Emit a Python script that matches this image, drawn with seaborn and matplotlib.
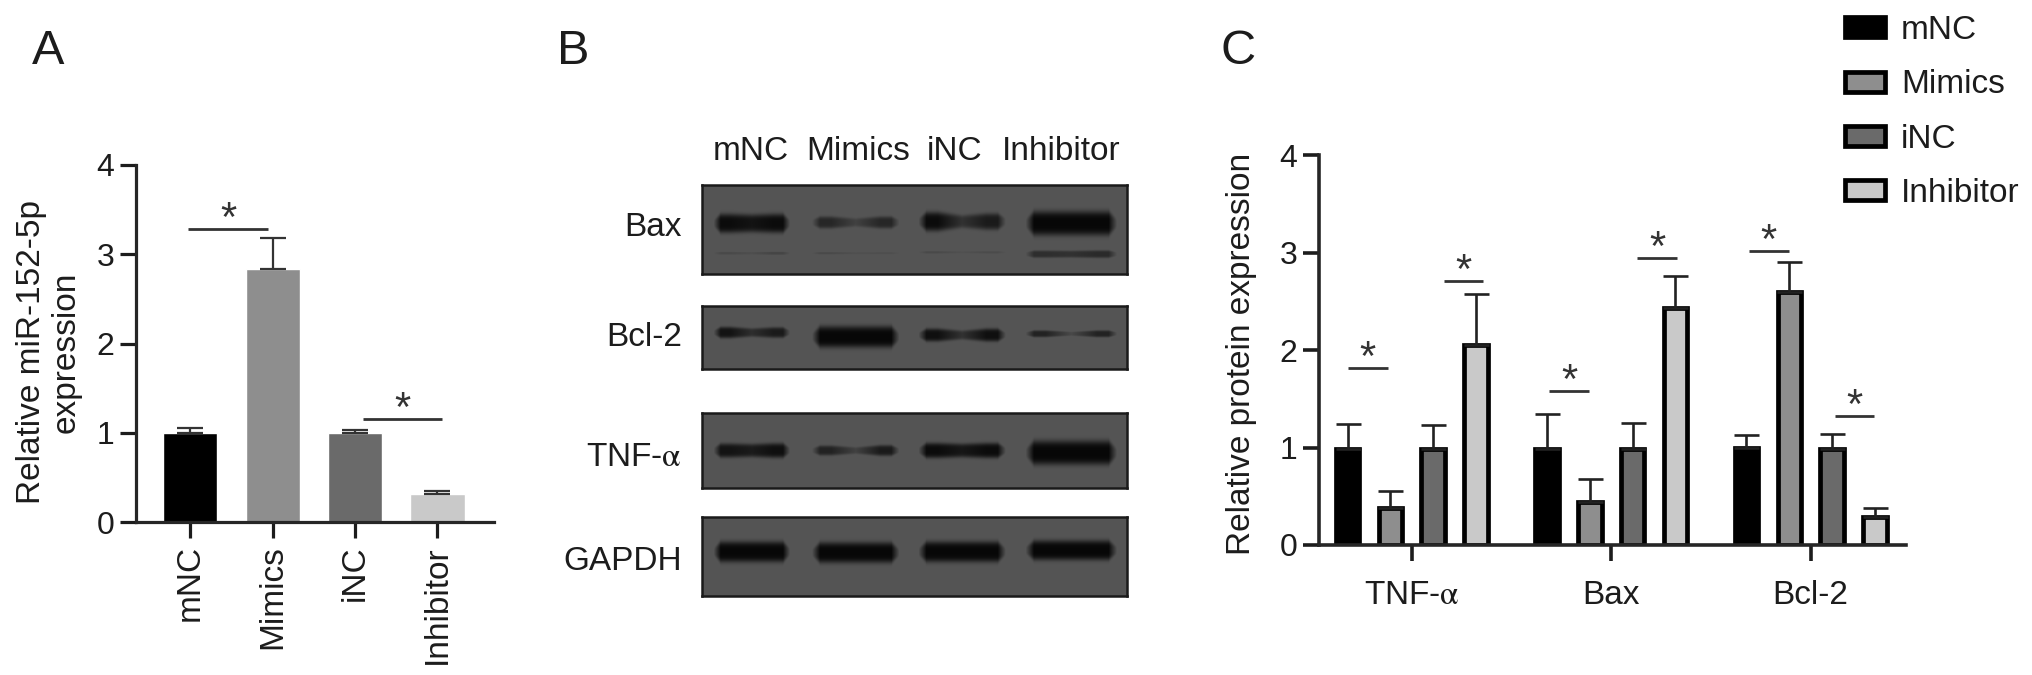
import numpy as np
import pandas as pd
import matplotlib
matplotlib.use("Agg")
import matplotlib.pyplot as plt
import seaborn as sns

W, H = 2032, 675

sns.set_theme(style="white")
plt.rcParams['font.family'] = ['Liberation Sans', 'DejaVu Sans']
plt.rcParams['mathtext.fontset'] = 'stix'
plt.rcParams['text.color'] = '#1c1c1c'
plt.rcParams['axes.labelcolor'] = '#1c1c1c'
plt.rcParams['xtick.color'] = '#1c1c1c'
plt.rcParams['ytick.color'] = '#1c1c1c'

groups = ['mNC', 'Mimics', 'iNC', 'Inhibitor']
colors = ['#000000', '#8e8e8e', '#6a6a6a', '#c9c9c9']

# panel A
a_vals = [1.0, 2.83, 1.0, 0.31]
a_tops = [1.05, 3.18, 1.03, 0.35]
a_sig_x = [(-0.02, 0.94), (2.1, 3.06)]
a_sig_y = [3.28, 1.15]

# panel B, band darkness at left / middle / right of each lane
blot_names = ['Bax', 'Bcl-2', r'TNF-$\mathrm{\alpha}$', 'GAPDH']
blot_boxes = [(185, 274), (306, 369), (413, 488), (517, 596)]
blot_label_y = [227, 338, 458, 562]
lane_left = [0.033, 0.266, 0.517, 0.77]
lane_right = [0.20, 0.457, 0.708, 0.97]
bax_dark = [(.95, .85, .95), (.6, .25, .6), (.95, .45, .75), (1, 1, 1)]
bax_low_dark = [(.14, .08, .2), (.14, .06, .08), (.14, .05, .12), (.5, .45, .55)]
bcl_dark = [(.85, .5, .75), (1, 1, 1), (.9, .45, .9), (.65, .15, .65)]
tnf_dark = [(.85, .75, .9), (.65, .25, .75), (.95, .8, .95), (1, 1, 1)]
gapdh_dark = [(1, 1, 1), (1, 1, 1), (1, 1, 1), (1, 1, 1)]

# band centre and thickness per lane, as a share of the blot height
bax_y = [0.43, 0.42, 0.41, 0.43]
bax_t = [0.22, 0.18, 0.22, 0.27]
bax_low_y = [0.77, 0.77, 0.76, 0.78]
bax_low_t = [0.07, 0.06, 0.06, 0.12]
bcl_y = [0.42, 0.49, 0.46, 0.44]
bcl_t = [0.20, 0.34, 0.22, 0.14]
tnf_y = [0.50, 0.50, 0.50, 0.53]
tnf_t = [0.21, 0.17, 0.21, 0.32]
gapdh_y = [0.44, 0.45, 0.44, 0.42]
gapdh_t = [0.26, 0.26, 0.26, 0.25]

# panel C
proteins = [r'TNF-$\mathrm{\alpha}$', 'Bax', 'Bcl-2']
c_vals = {
    'mNC': [0.98, 0.98, 1.0],
    'Mimics': [0.38, 0.44, 2.6],
    'iNC': [0.98, 0.98, 0.98],
    'Inhibitor': [2.05, 2.43, 0.29],
}
c_tops = {
    'mNC': [1.24, 1.34, 1.13],
    'Mimics': [0.55, 0.68, 2.9],
    'iNC': [1.23, 1.25, 1.14],
    'Inhibitor': [2.57, 2.76, 0.38],
}
c_sig_x = [(-0.32, -0.12), (0.16, 0.355), (0.69, 0.89), (1.13, 1.33), (1.69, 1.89), (2.12, 2.32)]
c_sig_y = [1.82, 2.71, 1.58, 2.94, 3.02, 1.32]


def make_axes(fig, x0, x1, y_bottom, y_top):
    return fig.add_axes([x0 / W, 1 - y_bottom / H, (x1 - x0) / W, (y_bottom - y_top) / H])


def fig_text(x, y, s, **kw):
    fig.text(x / W, 1 - y / H, s, **kw)


def add_band(img, left, right, yc, thick, dark):
    rows, cols = img.shape
    xx = np.linspace(0, 1, cols)
    yy = np.linspace(0, 1, rows)
    u = (xx - left) / (right - left)
    prof = np.interp(u, [-0.04, 0.06, 0.2, 0.5, 0.8, 0.94, 1.04],
                     [0, dark[0], dark[0], dark[1], dark[2], dark[2], 0])
    for j, p in enumerate(prof):
        if p <= 0:
            continue
        t = thick * (0.35 + 0.65 * p)
        img[:, j] -= p * 0.30 * np.exp(-((yy - yc) / (t / 2)) ** 4)


def blot_image(shape, bands):
    img = np.full(shape, 0.33)
    for ys, ts, darks in bands:
        for i, d in enumerate(darks):
            add_band(img, lane_left[i], lane_right[i], ys[i], ts[i], d)
    return np.clip(img, 0.03, 1)


def sig_marks(ax, xs, ys, star_size=30, lw=2.0):
    for (x0, x1), y in zip(xs, ys):
        ax.plot([x0, x1], [y, y], color='#333333', lw=lw, solid_capstyle='butt', clip_on=False)
        ax.annotate('*', ((x0 + x1) / 2, y), xytext=(0, -8), textcoords='offset points',
                    ha='center', va='bottom', fontsize=star_size, color='#333333')


fig = plt.figure(figsize=(W / 100, H / 100), dpi=100)

# A
ax = make_axes(fig, 136, 494, 522, 165)
sns.barplot(x=groups, y=a_vals, hue=groups, palette=colors, width=0.655, saturation=1,
            legend=False, errorbar=None, ax=ax)
for cont, top in zip(ax.containers, a_tops):
    bar = cont[0]
    xc = bar.get_x() + bar.get_width() / 2
    ax.errorbar([xc], [bar.get_height()], yerr=[[0], [top - bar.get_height()]],
                color='#333333', lw=1.6, capsize=9.5, capthick=1.6, zorder=1)
ax.set_xlim(-0.655, 3.685)
ax.set_ylim(0, 4)
ax.set_yticks([0, 1, 2, 3, 4])
ax.tick_params(axis='y', left=True, labelsize=23, length=11.5, width=2.3, pad=4)
ax.tick_params(axis='x', bottom=True, labelsize=24, length=11.5, width=2.3, pad=5, labelrotation=90)
ax.set_ylabel('Relative miR-152-5p\nexpression', fontsize=24, linespacing=1.17)
ax.yaxis.set_label_coords((82 - 136) / 358, 0.475)
sns.despine(ax=ax)
for s in ['left', 'bottom']:
    ax.spines[s].set_linewidth(2.3)
sig_marks(ax, a_sig_x, a_sig_y)

# B
bands_all = [
    [(bax_y, bax_t, bax_dark), (bax_low_y, bax_low_t, bax_low_dark)],
    [(bcl_y, bcl_t, bcl_dark)],
    [(tnf_y, tnf_t, tnf_dark)],
    [(gapdh_y, gapdh_t, gapdh_dark)],
]
for (y_top, y_bot), bands, name, ly in zip(blot_boxes, bands_all, blot_names, blot_label_y):
    bx = make_axes(fig, 702, 1127, y_bot, y_top)
    sns.heatmap(blot_image((y_bot - y_top, 425), bands), cmap='gray', vmin=0, vmax=1,
                cbar=False, xticklabels=False, yticklabels=False, ax=bx, rasterized=True)
    for s in bx.spines.values():
        s.set_visible(True)
        s.set_linewidth(1.8)
        s.set_color('#1a1a1a')
    fig_text(682, ly, name, ha='right', va='center', fontsize=24)
for g, lx in zip(groups, [751, 858, 955, 1061]):
    fig_text(lx, 151, g, ha='center', va='center', fontsize=24)

# C
df = pd.DataFrame({
    'protein': proteins * len(groups),
    'group': [g for g in groups for _ in proteins],
    'value': [v for g in groups for v in c_vals[g]],
})
cx = make_axes(fig, 1319, 1906, 545, 155)
sns.barplot(data=df, x='protein', y='value', hue='group', hue_order=groups, palette=colors,
            width=0.858, gap=0.45, saturation=1, edgecolor='black', linewidth=3.4,
            errorbar=None, ax=cx)
for cont, g in zip(cx.containers, groups):
    for bar, top in zip(cont, c_tops[g]):
        xc = bar.get_x() + bar.get_width() / 2
        cx.errorbar([xc], [bar.get_height()], yerr=[[0], [top - bar.get_height()]],
                    color='#222222', lw=1.9, capsize=9, capthick=1.9, zorder=1)
cx.set_xlim(-0.465, 2.478)
cx.set_ylim(0, 4)
cx.set_yticks([0, 1, 2, 3, 4])
cx.tick_params(axis='y', left=True, labelsize=23, length=11.5, width=2.6, pad=4)
cx.tick_params(axis='x', bottom=True, labelsize=24, length=11.5, width=2.6, pad=14)
cx.set_xlabel('')
cx.set_ylabel('Relative protein expression', fontsize=24)
cx.yaxis.set_label_coords((1257 - 1319) / 587, 0.49)
sns.despine(ax=cx)
for s in ['left', 'bottom']:
    cx.spines[s].set_linewidth(2.6)
sig_marks(cx, c_sig_x, c_sig_y)
cx.legend(loc='upper left', bbox_to_anchor=(1845 / W, 1 - 15 / H), bbox_transform=fig.transFigure,
          frameon=False, fontsize=24, handlelength=1.2, handleheight=0.55, labelspacing=0.7,
          handletextpad=0.48, borderaxespad=0, borderpad=0, title=None)

for letter, lx in zip(['A', 'B', 'C'], [48, 573, 1238]):
    fig_text(lx, 52, letter, ha='center', va='center', fontsize=35)

fig.savefig('out.png', dpi=100, facecolor='white')
